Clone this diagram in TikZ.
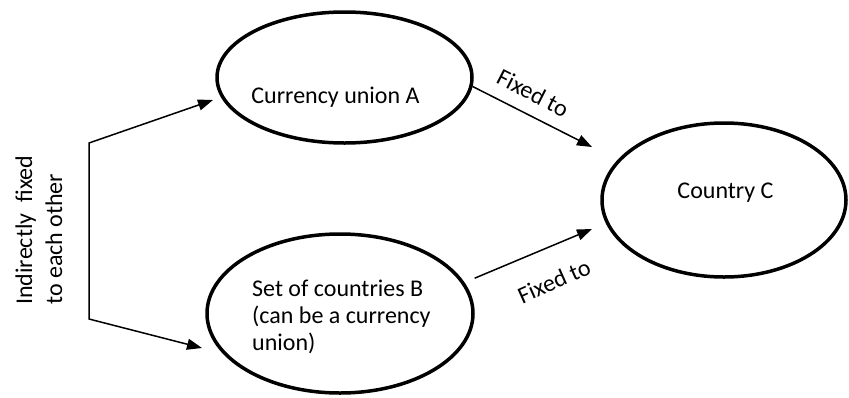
\documentclass[tikz,border=0pt]{standalone}
\usepackage{fontspec}
\setmainfont{Carlito}
\usetikzlibrary{shapes.geometric,arrows.meta}
\begin{document}
\begin{tikzpicture}[x=1pt,y=-1pt,
  ell/.style={ellipse,draw,line width=3.5pt,inner sep=0pt},
  conn/.style={line width=1.5pt,-{Triangle[length=15pt,width=11pt]}},
  lbl/.style={inner sep=0pt,font=\fontsize{24}{27}\selectfont}]
\useasboundingbox (0,0) rectangle (849,397);
% ellipses
\node[ell,minimum width=255pt,minimum height=131pt] (A) at (344.5,77.5) {};
\node[ell,minimum width=266pt,minimum height=159pt] (B) at (340,313.5) {};
\node[ell,minimum width=244pt,minimum height=154pt] (C) at (724,200) {};
% texts
\node[lbl,anchor=base] (tA) at (335.5,103) {Currency union A};
\node[lbl,anchor=base] (tC) at (725.5,198) {Country C};
\node[lbl,anchor=base west,align=left] (tB) at (252,350) {Set of countries B\\(can be a currency\\union)};
\node[lbl,font=\fontsize{24}{30}\selectfont,rotate=90,anchor=base west,align=left] (tL) at (62,305) {Indirectly\ \ fixed\\to each other};
\node[lbl,rotate=-27] (f1) at (533,93) {Fixed to};
\node[lbl,rotate=24] (f2) at (554,281) {Fixed to};
% connectors
\coordinate (cA) at (592,147);
\coordinate (cB) at (592,229);
\draw[conn] (A.-4.7) -- (cA);
\draw[conn,shorten <=11pt] (B.14.7) -- (cB);
\coordinate (k1) at (89,143);
\coordinate (k2) at (89,319);
\coordinate (pA) at (213,100);
\coordinate (pB) at (202,348);
\draw[line width=1.5pt,{Triangle[length=15pt,width=11pt]}-{Triangle[length=15pt,width=11pt]}] (pA) -- (k1) -- (k2) -- (pB);
\end{tikzpicture}
\end{document}
